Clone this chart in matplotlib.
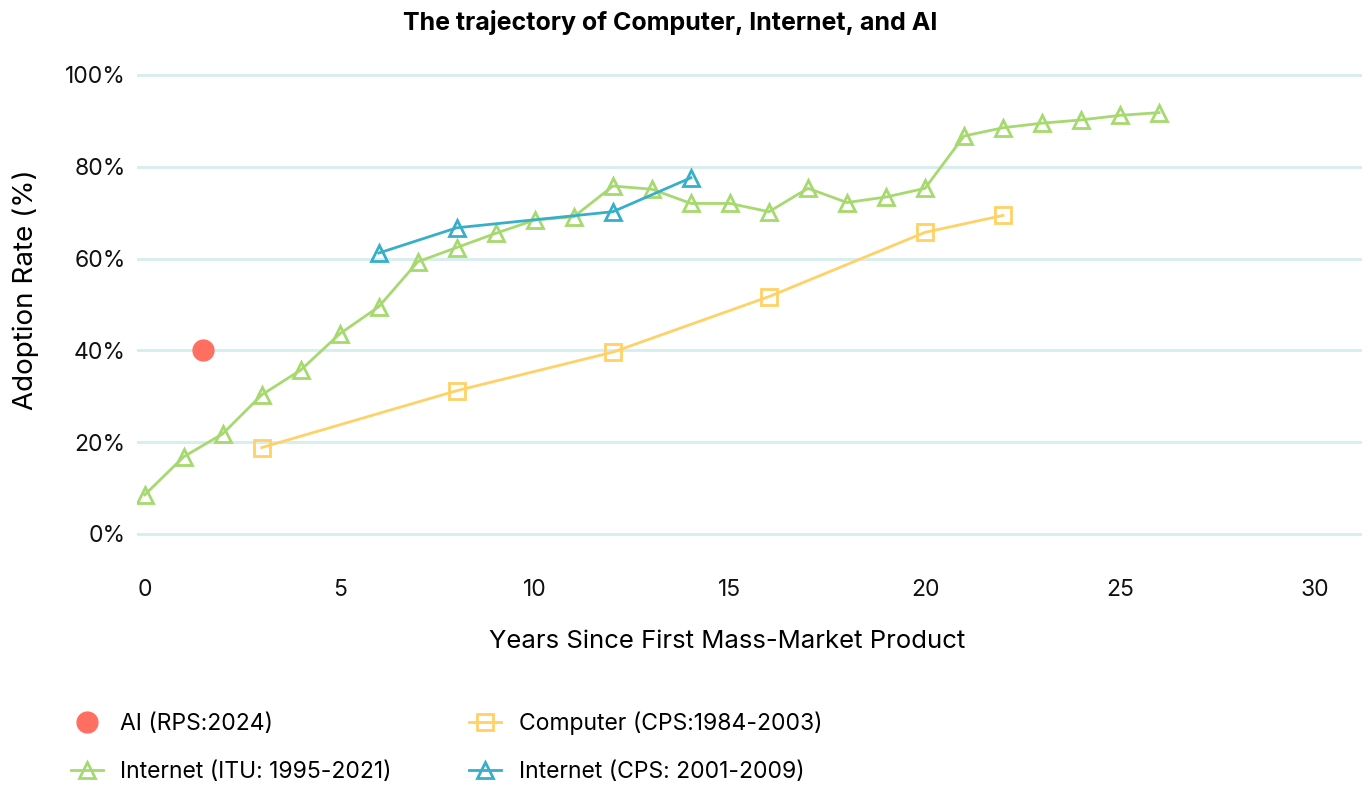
import matplotlib
matplotlib.use("Agg")
import matplotlib.pyplot as plt

plt.rcParams["font.family"] = ["Inter", "DejaVu Sans"]

# years since first mass-market product, adoption in %
itu_x = list(range(27))
itu_y = [8.5, 16.8, 21.8, 30.3, 35.7, 43.6, 49.5, 59.3, 62.4, 65.5, 68.4,
         69.1, 75.8, 75.1, 72.0, 72.0, 70.2, 75.3, 72.2, 73.4, 75.3,
         86.7, 88.5, 89.5, 90.2, 91.2, 91.8]

comp_x = [3, 8, 12, 16, 20, 22]
comp_y = [18.8, 31.2, 39.6, 51.7, 65.7, 69.4]

cps_x = [6, 8, 12, 14]
cps_y = [61.2, 66.7, 70.2, 77.6]

ai_x = [1.5]
ai_y = [40.1]

yticks = [0, 20, 40, 60, 80, 100]
xticks = [0, 5, 10, 15, 20, 25, 30]

green = "#a6d96f"
yellow = "#ffd166"
blue = "#38afc8"
red = "#ff6f61"
grid_c = "#d5eeee"

fig = plt.figure(figsize=(13.68, 7.89), dpi=100)
ax = fig.add_axes([0.1001, 0.3118, 0.8955, 0.6048])

ax.plot(ai_x, ai_y, "o", color=red, ms=15, label="AI (RPS:2024)", zorder=5)
ax.plot(itu_x, itu_y, "-^", color=green, lw=2, ms=12, mew=2, mfc="none",
        label="Internet (ITU: 1995-2021)", zorder=3)
ax.plot(comp_x, comp_y, "-s", color=yellow, lw=2, ms=11, mew=2, mfc="none",
        label="Computer (CPS:1984-2003)", zorder=3)
ax.plot(cps_x, cps_y, "-^", color=blue, lw=2, ms=12, mew=2, mfc="none",
        label="Internet (CPS: 2001-2009)", zorder=4)

ax.set_xlim(-0.2, 31.2)
ax.set_ylim(-2, 102)
ax.set_yticks(yticks)
ax.set_yticklabels([f"{v}%" for v in yticks])
ax.set_xticks(xticks)
for s in ax.spines.values():
    s.set_visible(False)
ax.tick_params(axis="both", length=0, labelsize=16.5, colors="#111111")
ax.tick_params(axis="x", pad=26)
ax.tick_params(axis="y", pad=8)
ax.grid(axis="y", color=grid_c, lw=2)
ax.set_axisbelow(True)

ax.set_xlabel("Years Since First Mass-Market Product", fontsize=18.5)
ax.xaxis.set_label_coords(0.4816, -0.182)
ax.set_ylabel("Adoption Rate (%)", fontsize=20)
ax.yaxis.set_label_coords(-0.08, 0.53)

fig.text(0.49, 0.972, "The trajectory of Computer, Internet, and AI",
         ha="center", va="center", fontsize=18, fontweight="bold")

fig.legend(loc="upper left", bbox_to_anchor=(0.045, 0.11), ncol=2,
           frameon=False, fontsize=16.5, handlelength=1.4, handletextpad=0.75,
           labelspacing=1.15, columnspacing=3.4, borderaxespad=0)

fig.savefig("out.png", dpi=100)
